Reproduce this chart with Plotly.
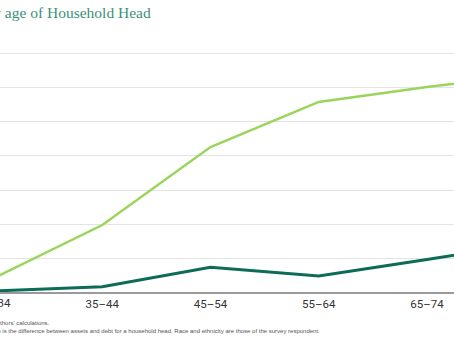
import plotly.graph_objects as go

ages = ["18–34", "35–44", "45–54", "55–64", "65–74", "75+"]
series_light = [82, 394, 853, 1118, 1206, 1280]
series_dark = [6, 31, 145, 94, 191, 290]
y_ticks = [0, 200, 400, 600, 800, 1000, 1200, 1400]

LIGHT = "#9ad45c"
DARK = "#0d6b57"

fig = go.Figure()
fig.add_trace(go.Scatter(x=ages, y=series_light, mode="lines",
                         line=dict(color=LIGHT, width=2.5), showlegend=False))
fig.add_trace(go.Scatter(x=ages, y=series_dark, mode="lines",
                         line=dict(color=DARK, width=3), showlegend=False))

fig.update_layout(
    width=454, height=341,
    margin=dict(l=0, r=0, t=46, b=49),
    paper_bgcolor="white", plot_bgcolor="white",
    font=dict(family="Roboto, Arial, sans-serif", color="#333333"),
    xaxis=dict(type="category", categoryorder="array", categoryarray=ages,
               range=[0.055, 4.25], showgrid=False, showline=True,
               linecolor="#9a9a9a", linewidth=2, ticks="",
               tickfont=dict(size=11.5, color="#333333")),
    yaxis=dict(range=[0, 1447], tickvals=y_ticks, showticklabels=False,
               gridcolor="#e3e3e3", gridwidth=1, zeroline=False),
)

# first category label partially off the left edge
fig.add_annotation(xref="paper", yref="paper", x=-6/454, y=-0.01,
                   xanchor="center", yanchor="top", showarrow=False,
                   text=ages[0], font=dict(size=11.5, color="#333333"))

# title (cropped on left)
fig.add_annotation(xref="paper", yref="paper", x=153/454, y=1 + (46-13)/246,
                   xanchor="right", yanchor="middle", showarrow=False,
                   text="Median Net Worth by age of Household Head",
                   font=dict(family="Liberation Serif, serif", size=15.5, color="#3a8f7e"))

# footnotes
fig.add_annotation(xref="paper", yref="paper", x=52/454, y=-(323-292)/246,
                   xanchor="right", yanchor="middle", showarrow=False,
                   text="Source: Survey of Consumer Finances and authors' calculations.",
                   font=dict(family="Arial, sans-serif", size=6, color="#555555"))
fig.add_annotation(xref="paper", yref="paper", x=322/454, y=-(331-292)/246,
                   xanchor="right", yanchor="middle", showarrow=False,
                   text="Note: Net worth is the difference between assets and debt for a household head. Race and ethnicity are those of the survey respondent.",
                   font=dict(family="Arial, sans-serif", size=6, color="#555555"))

fig.write_html("out.html")
